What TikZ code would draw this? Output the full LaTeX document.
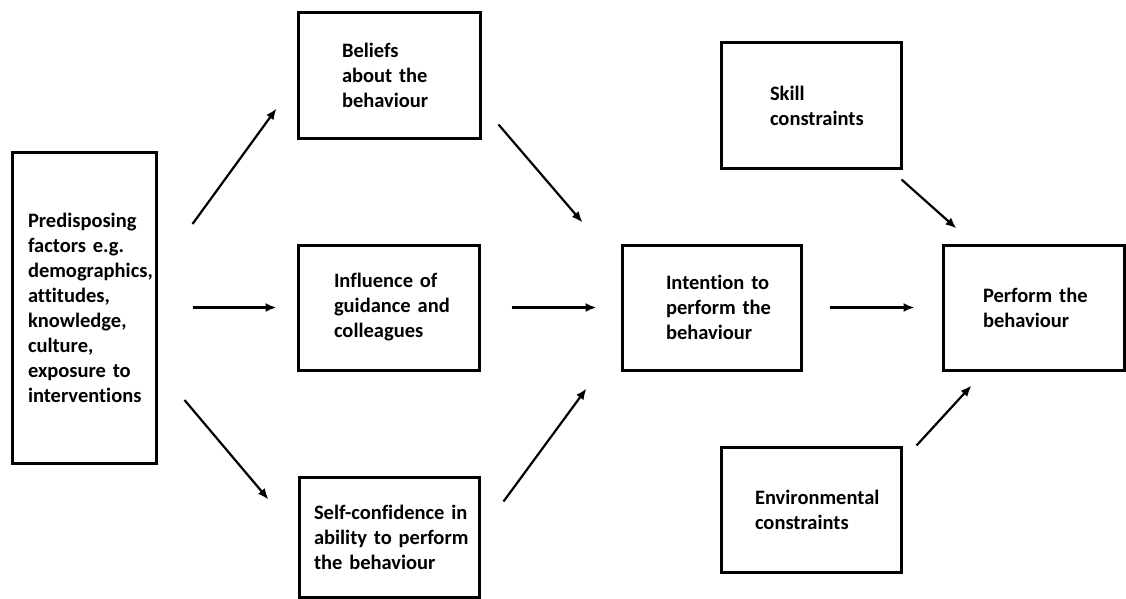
\documentclass[tikz,border=0pt]{standalone}
\usepackage{fontspec}
\setmainfont[Ligatures=NoCommon]{Carlito}
\usepackage{tikz}
\usetikzlibrary{arrows.meta}
\hfuzz=60pt

\tikzset{
	box/.style={draw, rectangle, line width=3pt, align=left,
		font=\fontsize{20.5}{25}\selectfont\bfseries,
		execute at begin node={\hyphenpenalty=10000\exhyphenpenalty=10000\relax}},
	arr/.style={-{Latex[length=11pt,width=9pt]}, line width=2.2pt}
}

\begin{document}
\begin{tikzpicture}[x=1pt,y=-1pt]
	\useasboundingbox (0,0) rectangle (1126,599);
	% boxes
	\node[box, minimum width=144, minimum height=311, inner xsep=16, text width=112] (pred) at (84,307.5)
		{Predisposing\\ factors~e.g.\\ demographics,\\ attitudes,\\ knowledge,\\ culture,\\ exposure~to\\ interventions};
	\node[box, minimum width=182, minimum height=125, inner xsep=44, text width=94] (beliefs) at (389,75.5)
		{Beliefs\\ about~the\\ behaviour};
	\node[box, minimum width=181, minimum height=125, inner xsep=36, text width=109] (influence) at (388.5,307.5)
		{Influence~of\\ guidance~and\\ colleagues};
	\node[box, minimum width=180, minimum height=120, inner xsep=15, text width=150] (self) at (389,537)
		{Self-confidence~in\\ ability~to~perform\\ the~behaviour};
	\node[box, minimum width=179, minimum height=125, inner xsep=44, text width=91] (intention) at (711.5,307.5)
		{Intention~to\\ perform~the\\ behaviour};
	\node[box, minimum width=180, minimum height=125, inner xsep=49, text width=82] (skill) at (811,105.5)
		{Skill\\ constraints};
	\node[box, minimum width=180, minimum height=125, inner xsep=34, text width=112] (env) at (811,509.5)
		{Environmental\\ constraints};
	\node[box, minimum width=181, minimum height=125, inner xsep=40, text width=101] (perform) at (1033.5,307.5)
		{Perform~the\\ behaviour};

	% arrows
	\draw[arr] ([shift={(35,-83.5)}]pred.east) -- ([shift={(-20,-31)}]beliefs.south west);
	\draw[arr] ([shift={(35,0)}]pred.east) -- ([shift={(-20,0)}]influence.west);
	\draw[arr] ([shift={(27,92.5)}]pred.east) -- ([shift={(-29,24)}]self.north west);
	\draw[arr] ([shift={(17,-15)}]beliefs.south east) -- ([shift={(-38,-21)}]intention.north west);
	\draw[arr] ([shift={(31,0)}]influence.east) -- ([shift={(-24,0)}]intention.west);
	\draw[arr] ([shift={(23,26)}]self.north east) -- ([shift={(-34,17)}]intention.south west);
	\draw[arr] ([shift={(27,0)}]intention.east) -- ([shift={(-27,0)}]perform.west);
	\draw[arr] ([shift={(-1,10)}]skill.south east) -- ([shift={(15,-15)}]perform.north west);
	\draw[arr] ([shift={(14,0)}]env.north east) -- ([shift={(30,14)}]perform.south west);
\end{tikzpicture}
\end{document}
